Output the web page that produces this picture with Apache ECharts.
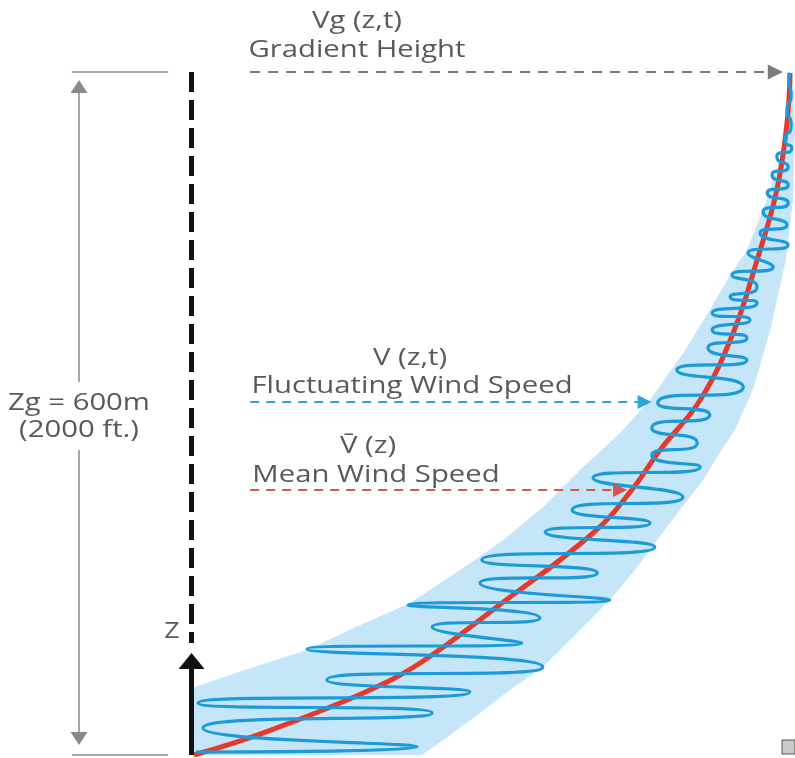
<!DOCTYPE html>
<html><head><meta charset="utf-8">
<script src="https://cdn.jsdelivr.net/npm/echarts@6/dist/echarts.min.js"></script>
<style>html,body{margin:0;padding:0;background:#fff}#c{width:795px;height:758px}</style>
</head><body><div id="c"></div>
<script>
// Speed in % of gradient wind speed, height in metres (gradient height = 600 m)
const meanSpeed  = [0.4, 11.9, 28.7, 38.2, 51.0, 67.1, 73.5, 78.3, 85.0, 90.5, 94.5, 97.8, 99.5, 100];
const meanHeight = [0, 19.3, 54.5, 80.8, 130, 195, 232.4, 268, 311.8, 370.7, 434.8, 496.3, 555.1, 599];

const bandLeftSpeed   = [0, 0, 8.9, 19.3, 28.2, 36.5, 44.9, 52.1, 59.1, 64.9, 71.6, 76.6, 82.5, 86.6, 90.0, 92.8, 95.8, 98.3, 99.5, 100, 100.2];
const bandLeftHeight  = [0, 58.9, 74.7, 92.2, 114.2, 133.5, 162.5, 188.9, 219.6, 250.3, 282.8, 311.8, 355.7, 390.8, 421.6, 443.6, 483.1, 522.6, 557.8, 581.5, 597.3];
const bandRightSpeed  = [100.5, 100.8, 100.5, 99.3, 96.7, 93.8, 90.8, 87.5, 85.5, 81.6, 77.8, 74.1, 69.9, 64.9, 58.7, 53.2, 48.2, 43.2, 38.5];
const bandRightHeight = [597.3, 548.9, 487.5, 434.8, 373.3, 320.6, 285.5, 259.1, 241.6, 215.2, 188.9, 162.5, 136.1, 109.8, 77.3, 57.1, 36.9, 17.6, 0];

const fluctSpeed  = [0.75, 37.7, 1.9, 40.2, 1.1, 46.5, 22.6, 58.7, 19.3, 55.2, 40.2, 58.2, 36.2, 69.9, 48.2, 67.8, 48.5, 77.4, 59.1, 76.6, 63.6, 82.1, 67.1, 85.0, 76.9, 84.5, 76.9, 86.6, 77.9, 92.2, 81.1, 92.8, 86.3, 92.8, 87.0, 93.3, 87.0, 94.5, 90.0, 94.5, 90.3, 97.2, 93.0, 99.7, 95.0, 99.5, 95.5, 99.7, 96.2, 99.7, 97.0, 99.7, 97.8, 100.3, 99.2, 100.2, 99.5, 100.2, 99.8, 100];
const fluctHeight = [2.6, 7.0, 23.7, 36.9, 45.7, 55.3, 65.9, 77.3, 93.1, 98.4, 112.4, 120.3, 131.8, 136.1, 151.1, 159.9, 171.3, 182.7, 195.9, 203.8, 215.2, 226.6, 243.3, 253.0, 263.5, 274.1, 287.2, 298.6, 309.2, 323.2, 338.2, 347.0, 357.5, 366.3, 373.3, 382.1, 388.2, 397.0, 402.3, 411.1, 421.6, 428.6, 440.9, 448.0, 458.5, 465.5, 477.0, 484.9, 493.6, 500.7, 509.5, 516.5, 525.3, 533.2, 540.2, 553.4, 566.5, 579.7, 591.2, 599];

const gradientHeight = 600;
const fluctArrowHeight = 310;
const meanArrowHeight = 232.8;

const chart = echarts.init(document.getElementById('c'), null, {renderer: 'canvas'});

function seg(p1, p2, style, endSymbol, endSize) {
  return [
    {coord: p1, symbol: 'none'},
    {coord: p2, symbol: endSymbol || 'none', symbolSize: endSize || 10, lineStyle: style}
  ];
}
const black = {color: '#111', width: 5, type: 'solid', cap: 'butt'};
const grey = {color: '#8a8a8a', width: 1.5, type: 'solid'};

const font = '"Open Sans", sans-serif';
function txt(x, y, s, size) {
  return {type: 'text', x: x, y: y, scaleX: 1.22,
    style: {text: s, fill: '#595959', font: (size || 24) + 'px ' + font, textAlign: 'center', textVerticalAlign: 'middle'}};
}

chart.setOption({
  animation: false,
  grid: {left: 12, right: 5, top: 15, bottom: 3},
  xAxis: {type: 'value', min: -30, max: 100, show: false},
  yAxis: {type: 'value', min: 0, max: 650, show: false},
  series: [
    {
      type: 'custom', name: 'band', silent: true, z: 1,
      data: [[0, 0]],
      renderItem: function (params, api) {
        const pts = [];
        for (let i = 0; i < bandLeftSpeed.length; i++) pts.push(api.coord([bandLeftSpeed[i], bandLeftHeight[i]]));
        for (let i = 0; i < bandRightSpeed.length; i++) pts.push(api.coord([bandRightSpeed[i], bandRightHeight[i]]));
        return {type: 'polygon', shape: {points: pts}, style: {fill: '#c5e6f8'}};
      }
    },
    {
      type: 'line', name: 'mean', z: 2, silent: true,
      data: meanSpeed.map((s, i) => [s, meanHeight[i]]),
      smooth: 0.4, symbol: 'none', clip: false,
      lineStyle: {color: '#e5392b', width: 5}
    },
    {
      type: 'line', name: 'fluct', z: 3, silent: true,
      data: fluctSpeed.map((s, i) => [s, fluctHeight[i]]),
      smooth: 0.9, symbol: 'none', clip: false,
      lineStyle: {color: '#1d9bd8', width: 3.2}
    },
    {
      type: 'line', name: 'annot', z: 4, silent: true, data: [], clip: false,
      markLine: {
        silent: true, animation: false, label: {show: false}, emphasis: {disabled: true},
        data: [
          // axes
          seg([0, gradientHeight], [0, 98.4], {color: '#111', width: 5, type: [20, 8]}),
          seg([0, 0], [0, 82.6], black, 'triangle', [26, 16]),
          seg([-0.4, 0], [100.8, 0], black),
          // annotation arrows
          seg([9.8, gradientHeight], [97.55, gradientHeight], {color: '#7a7a7a', width: 2, type: [10, 8]}, 'triangle', [15, 15]),
          seg([9.8, fluctArrowHeight], [75.7, fluctArrowHeight], {color: '#2aa6df', width: 1.8, type: [9, 7]}, 'triangle', [14, 14]),
          seg([9.8, meanArrowHeight], [71.6, meanArrowHeight], {color: '#d9544a', width: 1.8, type: [9, 7]}, 'triangle', [14, 14]),
          // dimension line Zg
          seg([-20, gradientHeight], [-3.9, gradientHeight], grey),
          seg([-20, 0], [-3.9, 0], grey),
          seg([-18.8, 327.6], [-18.8, 587.2], grey, 'triangle', [17, 13]),
          seg([-18.8, 267.9], [-18.8, 14.5], grey, 'triangle', [17, 13])
        ]
      }
    }
  ],
  graphic: [
    txt(357, 21, 'Vg (z,t)'),
    txt(357, 50, 'Gradient Height'),
    txt(410, 358, 'V (z,t)'),
    txt(412, 386, 'Fluctuating Wind Speed'),
    txt(368, 446, 'V\u0304 (z)'),
    txt(376, 475, 'Mean Wind Speed'),
    txt(79, 403, 'Zg = 600m'),
    txt(79, 430, '(2000 ft.)'),
    txt(172, 632, 'Z', 22),
    {type: 'rect', shape: {x: 782, y: 740, width: 13, height: 14}, style: {fill: '#c9c9c9', stroke: '#555', lineWidth: 1}, z: 0}
  ]
});
</script>
</body></html>
